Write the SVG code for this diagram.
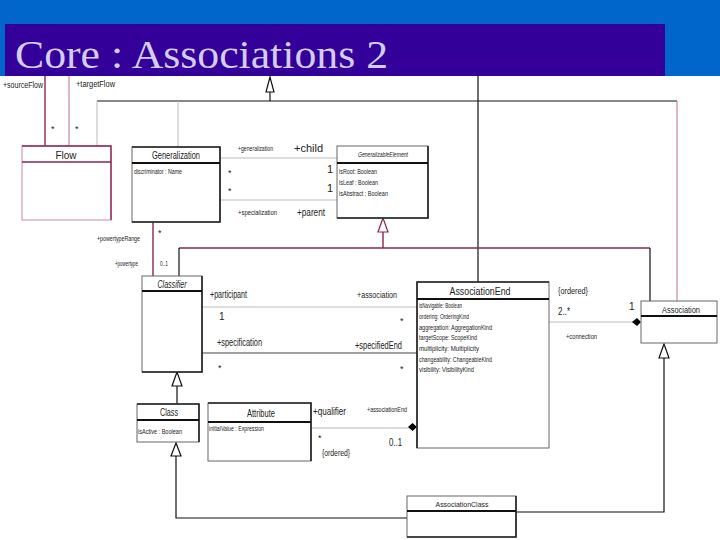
<svg xmlns="http://www.w3.org/2000/svg" width="720" height="540" viewBox="0 0 720 540">
<style>
.t{font-family:"Liberation Sans",Arial,sans-serif;fill:#222;font-size:9px}
.s7{font-size:7px}.s8{font-size:8px}.s10{font-size:10px}.s11{font-size:11px}
.it{font-style:italic}
.mid{text-anchor:middle}
.box{fill:#fff;stroke:#666;stroke-width:1}
.div{stroke:#111;stroke-width:2}
.edge{stroke:#222;stroke-width:1.6;fill:none}
.ln{fill:none;stroke:#111;stroke-width:1.2}
.grey{fill:none;stroke:#bbb;stroke-width:1}
.dark{fill:none;stroke:#444;stroke-width:1.2}
.mar{fill:none;stroke:#8c2450;stroke-width:1.4}
.pink{fill:none;stroke:#b9708f;stroke-width:1}
.tri{fill:#fff;stroke:#111;stroke-width:1.2}
.trim{fill:#fff;stroke:#8c2450;stroke-width:1.2}
.dia{fill:#000;stroke:none}
</style>
<rect x="0" y="0" width="720" height="540" fill="#fff"/>
<g id="header">
<rect x="0" y="0" width="720" height="76" fill="#0066cc"/>
<rect x="5" y="24" width="660" height="52" fill="#330099"/>
<text x="15" y="68" font-family="Liberation Serif,Times New Roman,serif" font-size="40" fill="#d4ccf2" textLength="373" lengthAdjust="spacingAndGlyphs">Core : Associations 2</text>
</g>
<g id="connectors">
<line x1="45" y1="76" x2="45" y2="146" class="mar" stroke-width="2.2"/>
<line x1="69" y1="76" x2="69" y2="146" class="pink"/>
<line x1="270" y1="92" x2="270" y2="101" class="ln"/>
<polygon points="270,77 266,92 274,92" class="tri"/>
<line x1="97" y1="101" x2="677" y2="101" class="ln"/>
<line x1="97" y1="101" x2="97" y2="146" class="grey"/>
<line x1="178" y1="101" x2="178" y2="147" class="grey"/>
<line x1="677" y1="101" x2="677" y2="301" class="pink"/>
<line x1="478" y1="76" x2="478" y2="282" class="ln"/>
<line x1="220" y1="158" x2="337" y2="158" class="grey"/>
<line x1="220" y1="200" x2="337" y2="200" class="grey"/>
<line x1="153" y1="222" x2="153" y2="276" class="mar"/>
<line x1="383" y1="232" x2="383" y2="248" class="mar" stroke-width="2.2"/>
<polygon points="383,218 378,232 388,232" class="trim"/>
<line x1="179" y1="248" x2="650" y2="248" class="mar"/>
<line x1="179" y1="248" x2="179" y2="276" class="ln" stroke-width="2"/>
<line x1="650" y1="248" x2="650" y2="301" class="ln" stroke-width="2"/>
<line x1="202" y1="307" x2="417" y2="307" class="grey"/>
<line x1="202" y1="353" x2="417" y2="353" class="dark"/>
<line x1="177" y1="386" x2="177" y2="404" class="ln"/>
<polygon points="177,372 172,386 182,386" class="tri"/>
<line x1="311" y1="428" x2="410" y2="428" class="grey"/>
<polygon points="417,427 412.5,423 408,427 412.5,431" class="dia"/>
<line x1="549" y1="322" x2="633" y2="322" class="grey"/>
<polygon points="641,322 637,318 632,322 637,326" class="dia"/>
<polyline points="664,358 664,512 516,512" class="ln"/>
<polygon points="664,344 659,358 669,358" class="tri"/>
<polyline points="176,456 176,518 407,518" class="ln"/>
<polygon points="176,443 171,456 181,456" class="tri"/>
</g>
<g id="labels">
<text x="3" y="88" class="t" textLength="40" lengthAdjust="spacingAndGlyphs">+sourceFlow</text>
<text x="76" y="87" class="t" textLength="39" lengthAdjust="spacingAndGlyphs">+targetFlow</text>
<text x="51" y="132" class="t">*</text>
<text x="75" y="132" class="t">*</text>
<text x="238" y="151" class="t s7" textLength="35" lengthAdjust="spacingAndGlyphs">+generalization</text>
<text x="294" y="152" class="t s10" textLength="29" lengthAdjust="spacingAndGlyphs">+child</text>
<text x="228" y="176" class="t">*</text>
<text x="327" y="173" class="t s11">1</text>
<text x="228" y="194" class="t">*</text>
<text x="327" y="192" class="t s11">1</text>
<text x="238" y="215" class="t s7" textLength="39" lengthAdjust="spacingAndGlyphs">+specialization</text>
<text x="297" y="216" class="t s10" textLength="28" lengthAdjust="spacingAndGlyphs">+parent</text>
<text x="97" y="241" class="t s7" textLength="43" lengthAdjust="spacingAndGlyphs">+powertypeRange</text>
<text x="158" y="236" class="t">*</text>
<text x="115" y="266" class="t s7" textLength="23" lengthAdjust="spacingAndGlyphs">+powertype</text>
<text x="160" y="266" class="t s7" textLength="8" lengthAdjust="spacingAndGlyphs">0..1</text>
<text x="210" y="298" class="t s10" textLength="37" lengthAdjust="spacingAndGlyphs">+participant</text>
<text x="357" y="298" class="t" textLength="40" lengthAdjust="spacingAndGlyphs">+association</text>
<text x="219" y="320" class="t s10">1</text>
<text x="400" y="324" class="t">*</text>
<text x="217" y="346" class="t s10" textLength="45" lengthAdjust="spacingAndGlyphs">+specification</text>
<text x="355" y="349" class="t s10" textLength="47" lengthAdjust="spacingAndGlyphs">+specifiedEnd</text>
<text x="218" y="371" class="t">*</text>
<text x="400" y="372" class="t">*</text>
<text x="558" y="294" class="t" textLength="30" lengthAdjust="spacingAndGlyphs">{ordered}</text>
<text x="558" y="315" class="t s10" textLength="12" lengthAdjust="spacingAndGlyphs">2..*</text>
<text x="629" y="310" class="t s10">1</text>
<text x="566" y="339" class="t s7" textLength="31" lengthAdjust="spacingAndGlyphs">+connection</text>
<text x="313" y="415" class="t s10" textLength="33" lengthAdjust="spacingAndGlyphs">+qualifier</text>
<text x="367" y="412" class="t s7" textLength="40" lengthAdjust="spacingAndGlyphs">+associationEnd</text>
<text x="318" y="441" class="t">*</text>
<text x="389" y="446" class="t s10" textLength="13" lengthAdjust="spacingAndGlyphs">0..1</text>
<text x="322" y="456" class="t" textLength="28" lengthAdjust="spacingAndGlyphs">{ordered}</text>
</g>
<g id="Flow">
<rect x="22" y="146" width="89" height="74" fill="#fff" stroke="#c98aa5" stroke-width="1"/>
<polyline points="22,146 111,146 111,220" class="mar" stroke-width="2"/>
<line x1="22" y1="162" x2="111" y2="162" class="mar" stroke-width="2"/>
<text x="66" y="159" class="t s10 mid">Flow</text>
</g>
<g id="Generalization">
<rect x="132" y="147" width="88" height="75" class="box"/>
<polyline points="132,147 220,147 220,222 132,222" class="edge"/>
<line x1="132" y1="163" x2="220" y2="163" class="div"/>
<text x="176" y="159" class="t s10 mid" textLength="48" lengthAdjust="spacingAndGlyphs">Generalization</text>
<text x="134" y="174" class="t s8" textLength="48" lengthAdjust="spacingAndGlyphs">discriminator : Name</text>
</g>
<g id="GeneralizableElement">
<rect x="337" y="146" width="91" height="72" class="box"/>
<polyline points="428,146 428,218 337,218" class="edge" stroke-width="2"/>
<line x1="337" y1="163" x2="428" y2="163" class="div"/>
<text x="383" y="157" class="t s7 it mid" textLength="50" lengthAdjust="spacingAndGlyphs">GeneralizableElement</text>
<text x="339" y="174" class="t s8" textLength="38" lengthAdjust="spacingAndGlyphs">isRoot: Boolean</text>
<text x="339" y="185" class="t s8" textLength="39" lengthAdjust="spacingAndGlyphs">isLeaf : Boolean</text>
<text x="339" y="196" class="t s8" textLength="49" lengthAdjust="spacingAndGlyphs">isAbstract : Boolean</text>
</g>
<g id="Classifier">
<rect x="142" y="276" width="60" height="96" class="box"/>
<polyline points="202,276 202,372 142,372" class="edge" stroke-width="2"/>
<line x1="142" y1="291" x2="202" y2="291" class="div" stroke-width="1.5"/>
<text x="172" y="288" class="t s10 it mid" textLength="29" lengthAdjust="spacingAndGlyphs">Classifier</text>
</g>
<g id="AssociationEnd">
<rect x="417" y="282" width="132" height="166" class="box"/>
<polyline points="417,448 417,282 549,282" class="edge" stroke-width="2"/>
<line x1="417" y1="299" x2="549" y2="299" class="div" stroke-width="1.5"/>
<text x="480" y="295" class="t s10 mid" textLength="61" lengthAdjust="spacingAndGlyphs">AssociationEnd</text>
<text x="419" y="308" class="t s8" textLength="43" lengthAdjust="spacingAndGlyphs">isNavigable: Boolean</text>
<text x="419" y="319" class="t s8" textLength="50" lengthAdjust="spacingAndGlyphs">ordering: OrderingKind</text>
<text x="419" y="330" class="t s8" textLength="73" lengthAdjust="spacingAndGlyphs">aggregation: AggregationKind</text>
<text x="419" y="340" class="t s8" textLength="58" lengthAdjust="spacingAndGlyphs">targetScope: ScopeKind</text>
<text x="419" y="351" class="t s8" textLength="60" lengthAdjust="spacingAndGlyphs">multiplicity: Multiplicity</text>
<text x="419" y="362" class="t s8" textLength="73" lengthAdjust="spacingAndGlyphs">changeability: ChangeableKind</text>
<text x="419" y="372" class="t s8" textLength="55" lengthAdjust="spacingAndGlyphs">visibility: VisibilityKind</text>
</g>
<g id="Association">
<rect x="641" y="301" width="76" height="42" class="box"/>
<line x1="641" y1="316" x2="717" y2="316" class="div" stroke-width="1.5"/>
<text x="681" y="313" class="t mid" textLength="38" lengthAdjust="spacingAndGlyphs">Association</text>
</g>
<g id="Class">
<rect x="137" y="404" width="62" height="38" class="box"/>
<polyline points="137,404 199,404 199,442" class="edge"/>
<line x1="137" y1="420" x2="199" y2="420" class="div" stroke-width="1.5"/>
<text x="169" y="416" class="t s10 mid" textLength="18" lengthAdjust="spacingAndGlyphs">Class</text>
<text x="138" y="434" class="t s7" textLength="44" lengthAdjust="spacingAndGlyphs">isActive : Boolean</text>
</g>
<g id="Attribute">
<rect x="208" y="403" width="103" height="58" class="box"/>
<polyline points="208,403 311,403 311,461" class="edge"/>
<line x1="208" y1="422" x2="311" y2="422" class="div" stroke-width="1.5"/>
<text x="261" y="417" class="t s10 mid" textLength="28" lengthAdjust="spacingAndGlyphs">Attribute</text>
<text x="209" y="431" class="t s7" textLength="55" lengthAdjust="spacingAndGlyphs">initialValue : Expression</text>
</g>
<g id="AssociationClass">
<rect x="407" y="496" width="109" height="41" class="box"/>
<polyline points="516,496 516,537 407,537" class="edge" stroke-width="2"/>
<line x1="407" y1="511" x2="516" y2="511" class="div" stroke-width="1.5"/>
<text x="462" y="507" class="t s8 mid" textLength="53" lengthAdjust="spacingAndGlyphs">AssociationClass</text>
</g>
</svg>
